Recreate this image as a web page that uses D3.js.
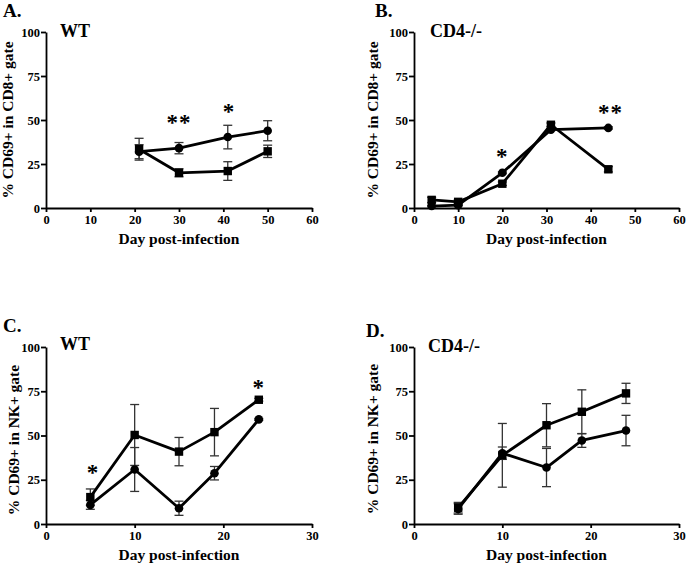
<!DOCTYPE html>
<html>
<head>
<meta charset="utf-8">
<script src="https://cdn.jsdelivr.net/npm/d3@7"></script>
<style>
  body { margin: 0; background: #fff; }
  svg { display: block; }
  svg text { font-family: "Liberation Serif", "DejaVu Serif", serif; font-weight: bold; fill: #000; }
</style>
</head>
<body>
<svg id="chart" width="688" height="565"></svg>
<script>
// panel text
var panelLetters = ["A.", "B.", "C.", "D."];
var panelStrains = ["WT", "CD4-/-", "WT", "CD4-/-"];
var yTitles = ["% CD69+ in CD8+ gate", "% CD69+ in CD8+ gate", "% CD69+ in NK+ gate", "% CD69+ in NK+ gate"];
var xTitle = "Day post-infection";
var xMaxes = [60, 60, 30, 30];
var xTicksCD8 = [0, 10, 20, 30, 40, 50, 60];
var xTicksNK = [0, 10, 20, 30];
var yTicks = [0, 25, 50, 75, 100];

// A. WT, CD8+
var daysA = [21, 30, 41, 50];
var circleA = [32, 34, 40.3, 43.9];
var circleErrA = [4, 3.2, 6.7, 5.7];
var squareA = [33.4, 20, 21, 32.2];
var squareErrA = [6.2, 2.3, 5.3, 3.5];
var starDaysA = [30, 41.3];
var starLevelsA = [51, 57.6];
var starTextA = ["**", "*"];

// B. CD4-/-, CD8+
var daysB = [4, 10, 20, 31, 44];
var circleB = [1.1, 1.6, 20, 44.5, 45.5];
var circleErrB = [0.4, 0.4, 0.5, 0.5, 0.6];
var squareB = [4.6, 3.5, 13.8, 47.3, 22];
var squareErrB = [1.5, 1, 1, 1, 1.5];
var starDaysB = [20, 44.5];
var starLevelsB = [32, 56.6];
var starTextB = ["*", "**"];

// C. WT, NK+
var daysC = [5, 10, 15, 19, 24];
var circleC = [10.8, 30.8, 8.9, 28.7, 59.1];
var circleErrC = [2.5, 12.4, 4, 3.8, 0.5];
var squareC = [15.2, 50.3, 40.9, 51.9, 70.2];
var squareErrC = [4.6, 17.2, 8, 13.4, 0.8];
var starDaysC = [5.3, 24];
var starLevelsC = [31.8, 79.8];
var starTextC = ["*", "*"];

// D. CD4-/-, NK+
var daysD = [5, 10, 15, 19, 24];
var circleD = [8.5, 40, 31.9, 47.2, 52.8];
var circleErrD = [3, 3.5, 10.8, 3.9, 8.6];
var squareD = [9.2, 38.8, 55.8, 63.4, 73.8];
var squareErrD = [3, 18, 12.2, 12.4, 5.7];
var starDaysD = [];
var starLevelsD = [];
var starTextD = [];

var series = [
  {days: daysA, circ: circleA, circErr: circleErrA, sq: squareA, sqErr: squareErrA, sd: starDaysA, sl: starLevelsA, st: starTextA},
  {days: daysB, circ: circleB, circErr: circleErrB, sq: squareB, sqErr: squareErrB, sd: starDaysB, sl: starLevelsB, st: starTextB},
  {days: daysC, circ: circleC, circErr: circleErrC, sq: squareC, sqErr: squareErrC, sd: starDaysC, sl: starLevelsC, st: starTextC},
  {days: daysD, circ: circleD, circErr: circleErrD, sq: squareD, sqErr: squareErrD, sd: starDaysD, sl: starLevelsD, st: starTextD}
];

// where each plot sits on the page
var layout = [
  {x0: 46, x1: 312, top: 32, bottom: 208, lx: 3, ly: 17, sx: 60, sy: 37, tx: 13, ty: 120},
  {x0: 414, x1: 679, top: 32, bottom: 208, lx: 375, ly: 17, sx: 430, sy: 37, tx: 378, ty: 120},
  {x0: 46, x1: 312, top: 347, bottom: 524, lx: 3, ly: 332, sx: 60, sy: 350, tx: 19, ty: 440},
  {x0: 414, x1: 679, top: 347, bottom: 524, lx: 366, ly: 337, sx: 428, sy: 352, tx: 378, ty: 439}
];

var svg = d3.select('#chart');

var drawpanel = function(i) {
  var L = layout[i], S = series[i];
  var g = svg.append('g').attr('class', 'panel');

  var x = d3.scaleLinear().domain([0, xMaxes[i]]).range([L.x0, L.x1]);
  var y = d3.scaleLinear().domain([0, 100]).range([L.bottom, L.top]);

  var xAxis = g.append('g')
      .attr('transform', 'translate(0,' + L.bottom + ')')
      .call(d3.axisBottom(x)
        .tickValues(xMaxes[i] == 60 ? xTicksCD8 : xTicksNK)
        .tickSize(4).tickSizeOuter(0).tickPadding(3));

  var yAxis = g.append('g')
      .attr('transform', 'translate(' + L.x0 + ',0)')
      .call(d3.axisLeft(y).tickValues(yTicks)
        .tickSize(5).tickSizeOuter(0).tickPadding(1));

  g.selectAll('.domain, .tick line').attr('stroke', '#000').attr('stroke-width', 1.8);
  g.selectAll('.tick text')
      .attr('font-size', 12.5);
  xAxis.attr('font-family', null);
  yAxis.attr('font-family', null);

  g.append('text')
      .attr('x', L.lx).attr('y', L.ly)
      .attr('font-size', 19)
      .text(panelLetters[i]);

  g.append('text')
      .attr('x', L.sx).attr('y', L.sy)
      .attr('font-size', 18)
      .text(panelStrains[i]);

  g.append('text')
      .attr('transform', 'translate(' + L.tx + ',' + L.ty + ') rotate(-90)')
      .attr('text-anchor', 'middle')
      .attr('font-size', 15.5)
      .text(yTitles[i]);

  g.append('text')
      .attr('x', (L.x0 + L.x1) / 2).attr('y', L.bottom + 36)
      .attr('text-anchor', 'middle')
      .attr('font-size', 15.5)
      .text(xTitle);

  var line = d3.line()
      .x(function(d){return x(d.day);})
      .y(function(d){return y(d.v);});

  var groups = [
    {shape: 'square', pts: S.days.map(function(d, k){return {day: d, v: S.sq[k], e: S.sqErr[k]};})},
    {shape: 'circle', pts: S.days.map(function(d, k){return {day: d, v: S.circ[k], e: S.circErr[k]};})}
  ];

  groups.forEach(function(grp) {
    var eb = g.append('g').attr('class', 'err');
    var bars = eb.selectAll('g').data(grp.pts).enter().append('g');
    bars.append('line')
        .attr('x1', function(d){return x(d.day);})
        .attr('x2', function(d){return x(d.day);})
        .attr('y1', function(d){return y(d.v + d.e);})
        .attr('y2', function(d){return y(d.v - d.e);});
    [1, -1].forEach(function(sgn) {
      bars.append('line')
          .attr('x1', function(d){return x(d.day) - 4.5;})
          .attr('x2', function(d){return x(d.day) + 4.5;})
          .attr('y1', function(d){return y(d.v + sgn * d.e);})
          .attr('y2', function(d){return y(d.v + sgn * d.e);});
    });
    eb.selectAll('line').attr('stroke', '#333').attr('stroke-width', 1.3);
  });

  groups.forEach(function(grp) {
    g.append('path')
        .datum(grp.pts)
        .attr('d', line)
        .attr('fill', 'none')
        .attr('stroke', '#000')
        .attr('stroke-width', 2.8)
        .attr('stroke-linejoin', 'round');

    if (grp.shape == 'circle') {
      g.selectAll(null).data(grp.pts).enter().append('circle')
          .attr('cx', function(d){return x(d.day);})
          .attr('cy', function(d){return y(d.v);})
          .attr('r', 4.3)
          .attr('fill', '#000');
    } else {
      g.selectAll(null).data(grp.pts).enter().append('rect')
          .attr('x', function(d){return x(d.day) - 4.2;})
          .attr('y', function(d){return y(d.v) - 4.2;})
          .attr('width', 8.4).attr('height', 8.4)
          .attr('fill', '#000');
    }
  });

  g.selectAll('.star').data(S.sd.map(function(d, k){return {day: d, v: S.sl[k], t: S.st[k]};}))
    .enter().append('text')
      .attr('class', 'star')
      .attr('x', function(d){return x(d.day);})
      .attr('y', function(d){return y(d.v) + 12;})
      .attr('text-anchor', 'middle')
      .attr('font-size', 23)
      .attr('letter-spacing', 1)
      .text(function(d){return d.t;});
};

for (var i = 0; i < 4; i++) drawpanel(i);
</script>
</body>
</html>
